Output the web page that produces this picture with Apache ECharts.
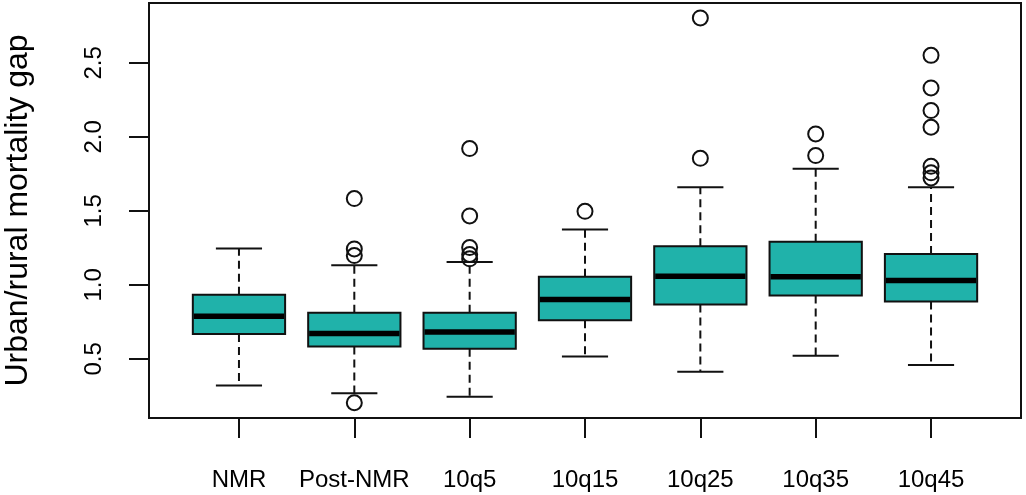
<!DOCTYPE html>
<html>
<head>
<meta charset="utf-8">
<script src="https://cdn.jsdelivr.net/npm/echarts@6/dist/echarts.min.js"></script>
<style>
  html, body { margin: 0; padding: 0; background: #fff; }
  #chart { width: 1026px; height: 495px; }
</style>
</head>
<body>
<div id="chart"></div>
<script>
const categories = ["NMR", "Post-NMR", "10q5", "10q15", "10q25", "10q35", "10q45"];
const whiskerLow = [0.32, 0.268, 0.243, 0.516, 0.412, 0.52, 0.459];
const q1 = [0.668, 0.583, 0.568, 0.761, 0.867, 0.928, 0.887];
const median = [0.788, 0.671, 0.682, 0.901, 1.058, 1.054, 1.029];
const q3 = [0.933, 0.811, 0.811, 1.054, 1.261, 1.291, 1.209];
const whiskerHigh = [1.246, 1.132, 1.155, 1.374, 1.66, 1.784, 1.66];
const outliers = [
  [],
  [1.583, 1.243, 1.198, 0.203],
  [1.921, 1.466, 1.252, 1.205, 1.176],
  [1.497],
  [2.804, 1.855],
  [2.02, 1.874],
  [2.551, 2.331, 2.178, 2.065, 1.801, 1.757, 1.723]
];
const yTicks = [0.5, 1.0, 1.5, 2.0, 2.5];

const FONT = "Liberation Sans";
const boxFill = "#20B2AA";
const ink = "#111";

const boxData = categories.map((c, i) => [i + 1, whiskerLow[i], q1[i], median[i], q3[i], whiskerHigh[i]]);
const outlierData = [];
outliers.forEach((list, i) => {
  list.forEach((v) => outlierData.push([i + 1, v]));
});

const renderBox = (params, api) => {
  const x = api.value(0);
  const low = api.coord([x, api.value(1)]);
  const lo = api.coord([x, api.value(2)]);
  const med = api.coord([x, api.value(3)]);
  const hi = api.coord([x, api.value(4)]);
  const high = api.coord([x, api.value(5)]);
  const boxW = api.size([0.8, 0])[0];
  const capW = api.size([0.4, 0])[0];
  const cx = low[0];
  const dashed = { stroke: ink, lineWidth: 2, lineDash: [8, 5] };
  const solid = { stroke: ink, lineWidth: 2 };
  return {
    type: "group",
    children: [
      { type: "line", shape: { x1: cx, y1: hi[1], x2: cx, y2: high[1] }, style: dashed },
      { type: "line", shape: { x1: cx, y1: lo[1], x2: cx, y2: low[1] }, style: dashed },
      { type: "line", shape: { x1: cx - capW / 2, y1: high[1], x2: cx + capW / 2, y2: high[1] }, style: solid },
      { type: "line", shape: { x1: cx - capW / 2, y1: low[1], x2: cx + capW / 2, y2: low[1] }, style: solid },
      {
        type: "rect",
        shape: { x: cx - boxW / 2, y: hi[1], width: boxW, height: lo[1] - hi[1] },
        style: { fill: boxFill, stroke: ink, lineWidth: 2 }
      },
      { type: "line", shape: { x1: cx - boxW / 2 + 1, y1: med[1], x2: cx + boxW / 2 - 1, y2: med[1] }, style: { stroke: "#000", lineWidth: 5.5 } }
    ]
  };
};

const chart = echarts.init(document.getElementById("chart"));
chart.setOption({
  animation: false,
  grid: {
    left: 149, right: 5, top: 3, bottom: 77,
    outerBoundsMode: "none",
    containLabel: false,
    show: true, borderColor: ink, borderWidth: 2, backgroundColor: "#fff"
  },
  xAxis: {
    type: "value",
    min: 0.22,
    max: 7.78,
    splitLine: { show: false },
    axisLine: { show: false },
    axisTick: { show: true, length: 20, customValues: [1, 2, 3, 4, 5, 6, 7], lineStyle: { color: ink, width: 2 } },
    axisLabel: {
      customValues: [1, 2, 3, 4, 5, 6, 7],
      formatter: (v) => categories[Math.round(v) - 1],
      margin: 50,
      color: "#000",
      fontFamily: FONT,
      fontSize: 24
    }
  },
  yAxis: {
    type: "value",
    min: 0.1,
    max: 2.905,
    name: "Urban/rural mortality gap",
    nameLocation: "middle",
    nameRotate: 90,
    nameGap: 115,
    nameTextStyle: { color: "#000", fontFamily: FONT, fontSize: 32 },
    splitLine: { show: false },
    axisLine: { show: false },
    axisTick: { show: true, length: 20, customValues: yTicks, lineStyle: { color: ink, width: 2 } },
    axisLabel: {
      customValues: yTicks,
      formatter: (v) => v.toFixed(1),
      rotate: 90,
      margin: 43,
      color: "#000",
      fontFamily: FONT,
      fontSize: 24
    }
  },
  series: [
    {
      type: "custom",
      renderItem: renderBox,
      encode: { x: 0, y: [1, 2, 3, 4, 5] },
      data: boxData,
      z: 2
    },
    {
      type: "scatter",
      data: outlierData,
      symbol: "circle",
      symbolSize: 15,
      itemStyle: { color: "rgba(0,0,0,0)", borderColor: ink, borderWidth: 2, opacity: 1 },
      z: 3
    }
  ]
});
</script>
</body>
</html>
